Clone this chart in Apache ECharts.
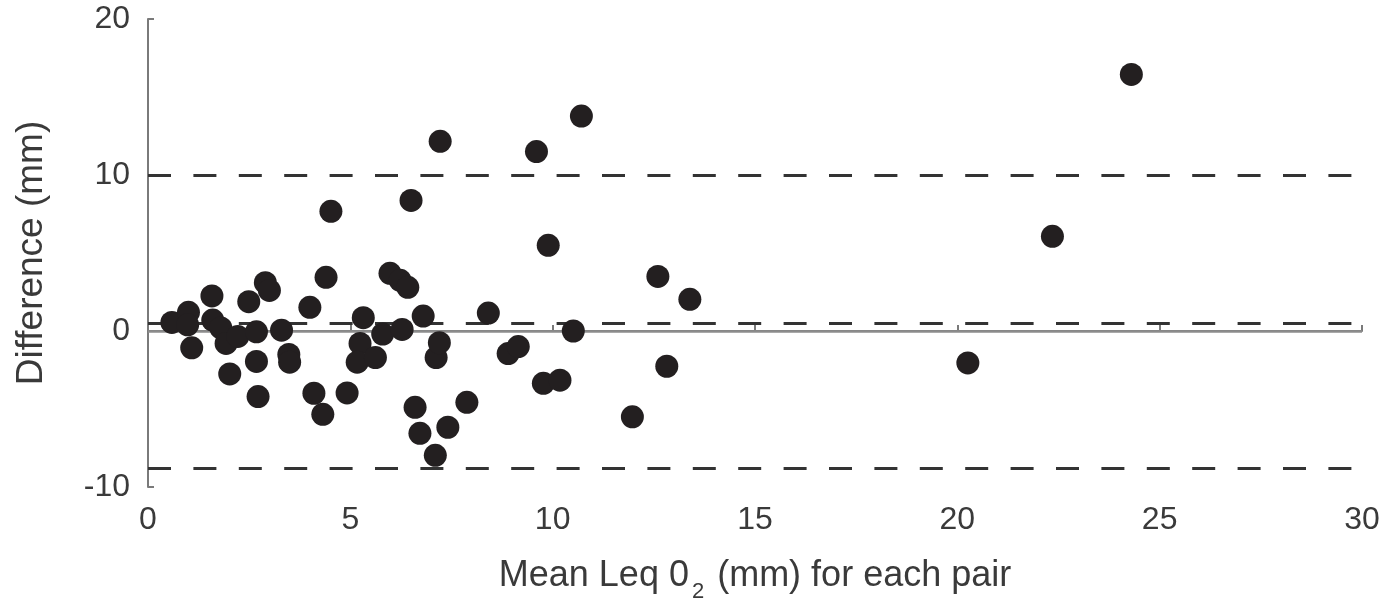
<!DOCTYPE html>
<html>
<head>
<meta charset="utf-8">
<script src="https://cdn.jsdelivr.net/npm/echarts@6/dist/echarts.min.js"></script>
<style>
  html, body { margin: 0; padding: 0; background: #fff; }
  #bland-altman { width: 1389px; height: 601px; }
</style>
</head>
<body>
<div id="bland-altman"></div>
<script>
  // mean of each pair (x) and the difference (y)
  var pairMeans = [
    0.59, 1.0, 0.98, 1.08, 1.58, 1.6, 1.8, 1.93, 2.02, 2.22,
    2.49, 2.68, 2.68, 2.72, 2.9, 3.0, 3.3, 3.48, 3.5, 4.0,
    4.1, 4.32, 4.4, 4.52, 4.92, 5.24, 5.17, 5.32, 5.62, 5.8,
    6.28, 5.98, 6.23, 6.42, 6.5, 6.6, 6.72, 6.8, 7.12, 7.2,
    7.1, 7.22, 7.41, 7.88, 8.41, 8.9, 9.15, 9.6, 9.77, 9.89,
    10.18, 10.51, 10.71, 11.97, 12.6, 12.82, 13.39, 20.26, 22.35, 24.3
  ]
  var pairDiffs = [
    0.55, 1.2, 0.4, -1.08, 2.25, 0.7, 0.2, -0.8, -2.75, -0.35,
    1.88, -0.05, -1.95, -4.2, 3.1, 2.6, 0.05, -1.5, -2.0, 1.52,
    -3.99, -5.34, 3.44, 7.67, -3.97, -0.8, -2.0, 0.85, -1.7, -0.2,
    0.1, 3.7, 3.25, 2.8, 8.37, -4.89, -6.56, 0.96, -1.7, -0.75,
    -7.97, 12.16, -6.17, -4.57, 1.15, -1.45, -1.0, 11.5, -3.35, 5.49,
    -3.15, 0.0, 13.78, -5.5, 3.5, -2.26, 2.03, -2.05, 6.07, 16.45
  ]
  var meanDiff = 0.5
  var upperLimit = 10
  var lowerLimit = -8.8
  var xTicks = [0, 30, 5]   // min, max, step
  var yTicks = [-10, 20, 10]

  var points = pairMeans.map(function (m, i) { return [m, pairDiffs[i]] })

  var textColor = '#3a3a3a'
  var axisColor = '#7a7a7a'
  var fontFamily = '"Liberation Sans", Arial, sans-serif'

  var myChart = echarts.init(document.getElementById('bland-altman'))
  myChart.setOption({
    animation: false,
    backgroundColor: '#fff',
    grid: {
      left: 148,
      right: 27,
      top: 19,
      bottom: 114,
      containLabel: false,
      outerBoundsMode: 'none'
    },
    xAxis: {
      type: 'value',
      min: xTicks[0],
      max: xTicks[1],
      interval: xTicks[2],
      splitLine: { show: false },
      axisLine: { lineStyle: { color: axisColor, width: 2 } },
      axisTick: { inside: true, length: 6, lineStyle: { color: axisColor, width: 2 } },
      axisLabel: { margin: 17, color: textColor, fontSize: 32, fontFamily: fontFamily },
      name: 'Mean Leq 0{sub|2} (mm) for each pair',
      nameLocation: 'middle',
      nameGap: 62,
      nameTextStyle: {
        color: textColor,
        fontSize: 36,
        fontFamily: fontFamily,
        rich: {
          sub: { fontSize: 22, color: textColor, fontFamily: fontFamily, padding: [32, 3, 0, 3] }
        }
      }
    },
    yAxis: {
      type: 'value',
      min: yTicks[0],
      max: yTicks[1],
      interval: yTicks[2],
      splitLine: { show: false },
      axisLine: { show: true, lineStyle: { color: axisColor, width: 2 } },
      axisTick: { show: true, inside: true, length: 6, lineStyle: { color: axisColor, width: 2 } },
      axisLabel: { margin: 18, padding: [9, 0, 0, 0], color: textColor, fontSize: 32, fontFamily: fontFamily },
      name: 'Difference (mm)',
      nameLocation: 'middle',
      nameGap: 98,
      nameTextStyle: { color: textColor, fontSize: 37, fontFamily: fontFamily }
    },
    series: [
      {
        type: 'scatter',
        z: 10,
        symbol: 'circle',
        symbolSize: 23,
        itemStyle: { color: '#231f20', opacity: 1 },
        data: points,
        markLine: {
          silent: true,
          symbol: 'none',
          label: { show: false },
          data: [
            { yAxis: 0, lineStyle: { type: 'solid', color: '#8c8c8c', width: 2.5 } },
            { yAxis: upperLimit },
            { yAxis: meanDiff },
            { yAxis: lowerLimit }
          ],
          lineStyle: { type: [23, 22.4], color: '#333', width: 3 }
        }
      }
    ]
  })
</script>
</body>
</html>
